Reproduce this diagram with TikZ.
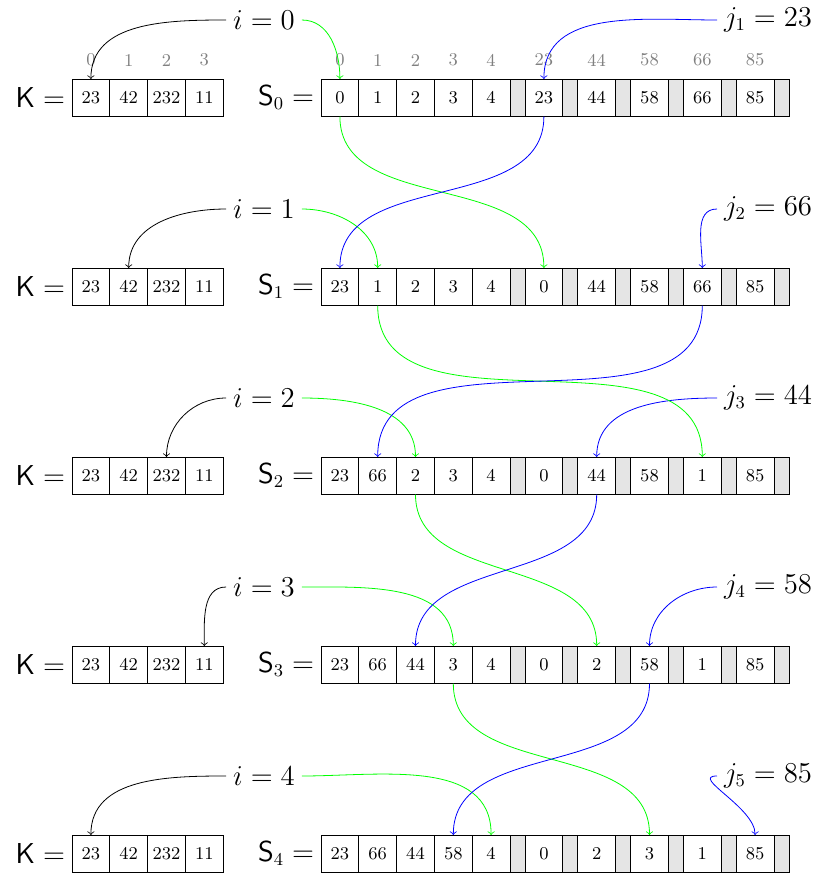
\documentclass[tikz,border=0pt]{standalone}
\usetikzlibrary{calc}
\tikzset{
  cell/.style={draw, minimum width=18.9pt, minimum height=18.75pt, inner sep=0pt, outer sep=0pt, font=\fontsize{9}{10}\selectfont},
  gcell/.style={draw, fill=black!10, minimum width=7.5pt, minimum height=18.75pt, inner sep=0pt, outer sep=0pt},
  idx/.style={text=black!50, font=\fontsize{9}{10}\selectfont, inner sep=1pt},
  big/.style={font=\fontsize{13.5}{16}\selectfont},
  conn/.style={->, line width=0.4pt},
}
\begin{document}
\begin{tikzpicture}[x=0.5pt,y=-0.5pt]
\useasboundingbox (0,0) rectangle (817,875);
% rows
\foreach \r/\top/\vals/\jl in {
  0/79/{0,1,2,3,4,23,44,58,66,85}/{j_1=23},
  1/268/{23,1,2,3,4,0,44,58,66,85}/{j_2=66},
  2/457/{23,66,2,3,4,0,44,58,1,85}/{j_3=44},
  3/646/{23,66,44,3,4,0,2,58,1,85}/{j_4=58},
  4/835/{23,66,44,58,4,0,2,3,1,85}/{j_5=85}}{
  \pgfmathsetmacro\yc{\top+18.75}
  \pgfmathsetmacro\yl{\top-59}
  \node[big, anchor=east] (kl\r) at (72,\yc) {$\mathsf{K}=$};
  \foreach \kv [count=\k from 0] in {23,42,232,11}{
    \pgfmathsetmacro\xx{72+37.8*(\k+0.5)}
    \node[cell] (k\r-\k) at (\xx,\yc) {\kv};
  }
  \node[big, anchor=east] (sl\r) at (321,\yc) {$\mathsf{S}_{\r}=$};
  \foreach \m in {0,...,5}{
    \pgfmathsetmacro\xx{517.5+52.8*\m}
    \node[gcell] (g\r-\m) at (\xx,\yc) {};
  }
  \foreach \sv [count=\k from 0] in \vals {
    \pgfmathsetmacro\xx{\k<5 ? 321+37.8*(\k+0.5) : 543.9+(\k-5)*52.8}
    \node[cell] (s\r-\k) at (\xx,\yc) {\sv};
  }
  \node[big] (i\r) at (264,\yl) {$i=\r$};
  \node[big, anchor=west] (j\r) at (717,\yl) {$\jl$};
}
% index labels
\foreach \v [count=\k from 0] in {0,1,2,3}{
  \node[idx] (ki-\k) at (k0-\k |- 0,60) {\v};
}
\foreach \v [count=\k from 0] in {0,1,2,3,4,23,44,58,66,85}{
  \node[idx] (si-\k) at (s0-\k |- 0,60) {\v};
}
% pointers
\foreach \r/\J/\kc in {0/5/0,1/8/1,2/6/2,3/7/3,4/9/0}{
  \draw[conn] (i\r.west) to[out=180,in=90] (k\r-\kc.north);
  \draw[conn, green] (i\r.east) to[out=0,in=90] (s\r-\r.north);
  \draw[conn, blue] (j\r.west) to[out=180,in=90] (s\r-\J.north);
}
% swaps
\foreach \r/\J in {0/5,1/8,2/6,3/7}{
  \pgfmathtruncatemacro\n{\r+1}
  \draw[conn, green] (s\r-\r.south) to[out=-90,in=90] (s\n-\J.north);
  \draw[conn, blue] (s\r-\J.south) to[out=-90,in=90] (s\n-\r.north);
}
\end{tikzpicture}
\end{document}
